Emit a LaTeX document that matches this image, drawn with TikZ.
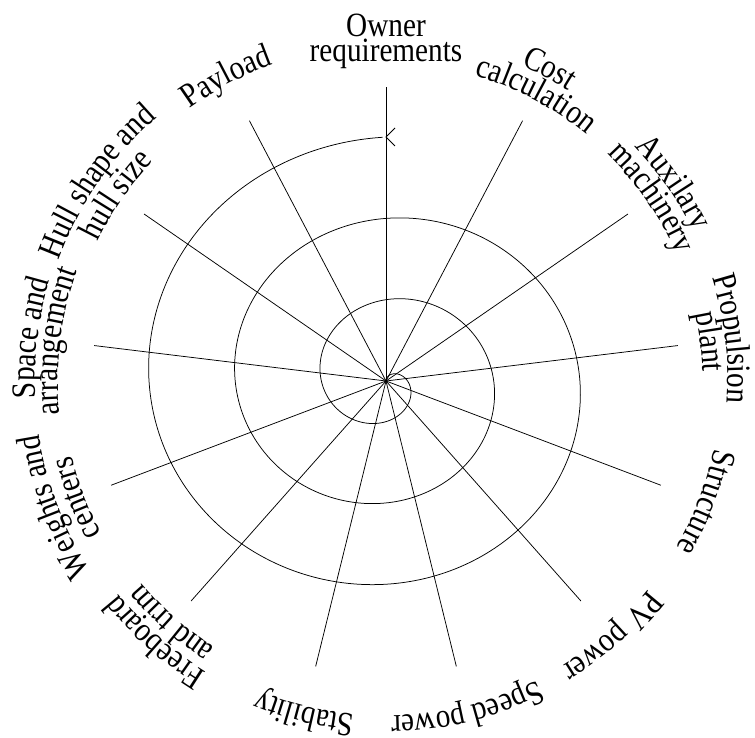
\documentclass[tikz,border=0pt]{standalone}
\usepackage{fontspec}
\newfontfamily\lblfont[FakeStretch=0.86]{Liberation Serif}
\usetikzlibrary{decorations.text}
\newcommand{\arclabel}[3]{%
  \path[shift={(C)}, decorate, decoration={text along path, text align=center,
      text={|\lblfont\fontsize{34}{34}\selectfont|#3}}]
    ({90-#1*360/13+50}:#2) arc[start angle={90-#1*360/13+50}, end angle={90-#1*360/13-50}, radius=#2];}
\begin{document}
\begin{tikzpicture}[x=1pt,y=1pt,
  spoke/.style={line width=0.75pt},
  spiralline/.style={line width=0.75pt},
  lbl/.style={font=\lblfont\fontsize{34}{25}\selectfont, inner sep=0pt}]
\useasboundingbox (0,0) rectangle (755,738);
\coordinate (C) at (386,357);
% spokes
\foreach \k in {0,...,12}{
  \path (C) ++({90-\k*360/13}:294) coordinate (s\k);
  \draw[spoke] (C) -- (s\k);
}
% spiral
\draw[spiralline] plot[domain=0:3, samples=600, smooth, variable=\t]
  ({386+1.06*81.3*\t*sin(360*\t)}, {357+81.3*\t*cos(360*\t)});
\coordinate (E) at (386,601);
\draw[spiralline] (E) ++(9,9) -- (E) -- ++(9,-9);
% labels
\node[lbl, align=center, anchor=base] (owner) at (386,676) {Owner\\requirements};
\arclabel{1}{343}{Cost}
\arclabel{1}{318}{calculation}
\arclabel{2}{342}{Auxilary}
\arclabel{2}{317}{machinery}
\arclabel{3}{342}{Propulsion}
\arclabel{3}{317}{plant}
\arclabel{4}{335}{Structure}
\arclabel{5}{335}{PV power}
\arclabel{6}{335}{Speed power}
\arclabel{7}{335}{Stability}
\arclabel{8}{342}{Freeboard}
\arclabel{8}{317}{and trim}
\arclabel{9}{351}{Weights and}
\arclabel{9}{323}{centers}
\arclabel{10}{351}{Space and}
\arclabel{10}{328}{arrangement}
\arclabel{11}{349}{Hull shape and}
\arclabel{11}{320}{hull size}
\arclabel{12}{336}{Payload}
\end{tikzpicture}
\end{document}
